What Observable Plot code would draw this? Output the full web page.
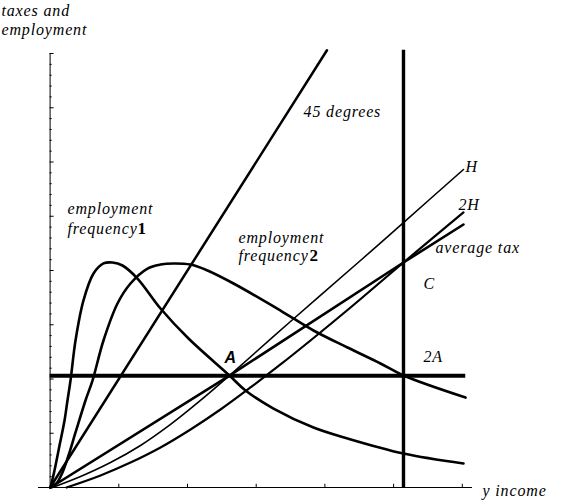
<!DOCTYPE html>
<html><head><meta charset="utf-8">
<script src="https://cdn.jsdelivr.net/npm/d3@7"></script>
<script src="https://cdn.jsdelivr.net/npm/@observablehq/plot@0.6"></script>
<style>
body{margin:0;background:#fff}
svg{display:block}
svg g.lbl text{letter-spacing:0.85px}
</style>
</head><body><div id="chart"></div>
<script>
// ---- data ----
const xTicks = [1, 2, 3, 4, 5, 6];
const yMajorTicks = [0.5, 1, 1.5, 2, 2.5, 3, 3.5, 4];
const yMinorTicks = [0.1,0.2,0.3,0.4,0.6,0.7,0.8,0.9,1.1,1.2,1.3,1.4,1.6,1.7,1.8,1.9,
  2.1,2.2,2.3,2.4,2.6,2.7,2.8,2.9,3.1,3.2,3.3,3.4,3.6,3.7,3.8,3.9];

const line45X = [0, 4.03];
const line45Y = [0, 4.03];

const emp1X = [0.006,0.064,0.137,0.210,0.253,0.297,0.370,0.486,0.632,0.777,0.908,1.054,1.272,1.607,2.015,2.611,2.844,3.252,3.834,4.329,5.144,6.017];
const emp1Y = [0,0.157,0.387,0.618,0.802,0.986,1.355,1.724,1.972,2.065,2.074,2.046,1.926,1.650,1.373,1.032,0.894,0.728,0.553,0.452,0.313,0.221];

const emp2X = [0.006,0.093,0.180,0.268,0.370,0.515,0.617,0.777,0.981,1.170,1.418,1.607,1.796,2.044,2.291,2.670,3.354,3.834,4.329,4.809,5.144,6.047];
const emp2Y = [0,0.037,0.138,0.295,0.507,0.802,0.986,1.355,1.696,1.880,2.018,2.055,2.065,2.055,2.000,1.880,1.631,1.447,1.290,1.143,1.032,0.829];

const hX = [0.035,0.443,0.879,1.316,1.753,2.189,2.611,3.499,4.518,5.144,6.017];
const hY = [0,0.101,0.230,0.387,0.581,0.802,1.032,1.530,2.092,2.442,2.931];

const h2X = [0.239,0.734,1.170,1.607,2.044,2.480,2.917,3.354,3.790,4.373,5.144,6.017];
const h2Y = [0,0.111,0.230,0.369,0.535,0.719,0.922,1.134,1.355,1.659,2.074,2.535];

const avgX = [0.006,2.611,5.144,6.017];
const avgY = [0,1.032,2.074,2.424];

const levelA = [1.03];      // horizontal line (2A level)
const incomeC = [5.144];    // vertical line

const zip = (xs, ys) => xs.map((x, i) => ({x, y: ys[i]}));

// ---- annotations ----
const serif = "Liberation Serif, Times New Roman, serif";
const labels = [
  {text: "taxes and\nemployment", x: -0.708, y: 4.166},
  {text: "45 degrees", x: 3.689, y: 3.419},
  {text: "H", x: 6.047, y: 2.912},
  {text: "2H", x: 5.945, y: 2.562},
  {text: "average tax", x: 5.610, y: 2.157},
  {text: "C", x: 5.435, y: 1.825},
  {text: "2A", x: 5.435, y: 1.161},
  {text: "employment", x: 0.253, y: 2.525},
  {text: "frequency", x: 0.253, y: 2.341},
  {text: "employment", x: 2.742, y: 2.258},
  {text: "frequency", x: 2.742, y: 2.083},
  {text: "y income", x: 6.294, y: -0.074}
];
const boldNums = [
  {text: "1", x: 1.272, y: 2.341},
  {text: "2", x: 3.776, y: 2.083}
];
const pointA = [{text: "A", x: 2.539, y: 1.152}];

const chart = Plot.plot({
  width: 561, height: 500,
  marginLeft: 49.6, marginRight: 99.2, marginTop: 53, marginBottom: 13,
  x: {domain: [0, 6], axis: null},
  y: {domain: [0, 4], axis: null},
  style: {background: "white", overflow: "visible"},
  marks: [
    // axes
    Plot.ruleY([0], {x1: -0.169, x2: 6.149, stroke: "black", strokeWidth: 1}),
    Plot.ruleX([0], {y1: 0, y2: 4, stroke: "black", strokeWidth: 1}),
    Plot.ruleX(xTicks, {y1: 0, y2: 0.03, stroke: "black", strokeWidth: 1}),
    Plot.ruleY(yMajorTicks, {x1: 0, x2: 0.058, stroke: "black", strokeWidth: 1}),
    Plot.ruleY(yMinorTicks, {x1: 0, x2: 0.03, stroke: "black", strokeWidth: 1}),
    // reference lines
    Plot.ruleY(levelA, {x1: 0, x2: 6.05, stroke: "black", strokeWidth: 4}),
    Plot.ruleX(incomeC, {y1: 0, y2: 4.03, stroke: "black", strokeWidth: 3.4}),
    // curves
    Plot.line(zip(line45X, line45Y), {x: "x", y: "y", stroke: "black", strokeWidth: 2.5}),
    Plot.line(zip(avgX, avgY), {x: "x", y: "y", stroke: "black", strokeWidth: 2.6}),
    Plot.line(zip(hX, hY), {x: "x", y: "y", stroke: "black", strokeWidth: 1.6, curve: "catmull-rom"}),
    Plot.line(zip(h2X, h2Y), {x: "x", y: "y", stroke: "black", strokeWidth: 2.2, curve: "catmull-rom"}),
    Plot.line(zip(emp1X, emp1Y), {x: "x", y: "y", stroke: "black", strokeWidth: 2.6, curve: "catmull-rom"}),
    Plot.line(zip(emp2X, emp2Y), {x: "x", y: "y", stroke: "black", strokeWidth: 2.6, curve: "catmull-rom"}),
    // labels
    Plot.text(labels, {x: "x", y: "y", text: "text", fontFamily: serif, fontStyle: "italic", fontSize: 16,
      textAnchor: "start", lineAnchor: "bottom", lineHeight: 1.19, fill: "black", className: "lbl"}),
    Plot.text(boldNums, {x: "x", y: "y", text: "text", fontFamily: serif, fontWeight: "bold", fontSize: 17,
      textAnchor: "start", lineAnchor: "bottom", fill: "black"}),
    Plot.text(pointA, {x: "x", y: "y", text: "text", fontFamily: "Liberation Sans, Arial, sans-serif",
      fontWeight: "bold", fontStyle: "italic", fontSize: 16, textAnchor: "start", lineAnchor: "bottom", fill: "black"})
  ]
});
document.getElementById("chart").appendChild(chart);
</script>
</body></html>
